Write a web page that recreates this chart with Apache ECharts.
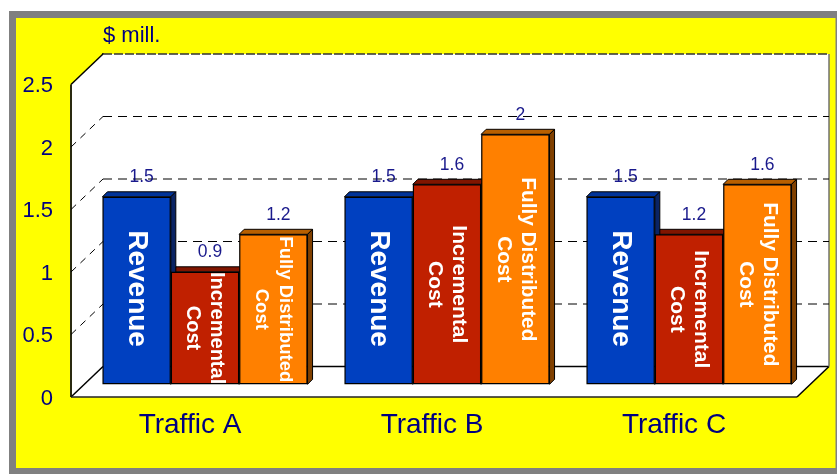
<!DOCTYPE html>
<html>
<head>
<meta charset="utf-8">
<style>html,body{margin:0;padding:0;background:#fff}#c{width:837px;height:474px}</style>
<script src="https://cdn.jsdelivr.net/npm/echarts@6/dist/echarts.min.js"></script>
</head>
<body>
<div id="c"></div>
<script>
const categories = ['Traffic A', 'Traffic B', 'Traffic C'];
const revenue = [1.5, 1.5, 1.5];
const incrementalCost = [0.9, 1.6, 1.2];
const fullyDistributedCost = [1.2, 2, 1.6];
const gridTicks = [0.5, 1, 1.5, 2];
const seriesNames = ['Revenue', 'Incremental\nCost', 'Fully Distributed\nCost'];

const FONT = '"Liberation Sans", Arial, sans-serif';
const NAVY = '#000080';
const DX = 32, DY = 30.5;         // depth of the box
const BAR_DX = 5, BAR_DY = 5;     // depth of each bar
const BAR_RATIO = 0.2825;
const front = ['#0040C0', '#C02000', '#FF8000'];
const topFace = ['#003399', '#801500', '#B85F00'];
const sideFace = ['#0A2464', '#5C1000', '#804000'];
const labelSizes = [[28, 28, 28], [20, 21, 21], [18.5, 20.8, 20.8]];
const labelShift = [-2, 0, 0];

const allValues = [revenue, incrementalCost, fullyDistributedCost];
const rows = [];
for (let c = categories.length - 1; c >= 0; c--) {
  for (let s = allValues.length - 1; s >= 0; s--) rows.push([c, allValues[s][c], s]);
}

function barGeom(api) {
  const w = api.size([1, 0])[0] * BAR_RATIO;
  const c = api.value(0), v = api.value(1), s = api.value(2);
  const top = api.coord([c, v]), base = api.coord([c, 0]);
  const x0 = top[0] + (s - 1.5) * w;
  return {x0, x1: x0 + w, yTop: top[1], yBase: base[1], s, v};
}

const barSeries = allValues.map((vals, s) => ({
  type: 'bar',
  name: seriesNames[s],
  xAxisIndex: 2, yAxisIndex: 2,
  barWidth: BAR_RATIO * 100 + '%',
  barGap: 0,
  z: 3,
  itemStyle: {color: front[s], borderColor: '#000', borderWidth: 1.2},
  data: vals.map((v, c) => ({
    value: v,
    label: {
      show: true, position: 'inside', rotate: -90, formatter: seriesNames[s],
      offset: [labelShift[s], 0],
      color: '#fff', fontFamily: FONT, fontWeight: 'bold',
      fontSize: labelSizes[s][c], lineHeight: 24, align: 'center', verticalAlign: 'middle'
    }
  }))
}));

const option = {
  animation: false,
  backgroundColor: '#fff',
  textStyle: {fontFamily: FONT},
  graphic: [
    {type: 'rect', z: -2, silent: true, shape: {x: 9, y: 11, width: 828, height: 463}, style: {fill: '#808080'}},
    {type: 'rect', z: -1, silent: true, shape: {x: 16, y: 18, width: 819.5, height: 450}, style: {fill: '#FFFF00'}}
  ],
  grid: [
    {left: 103, top: 54, width: 726, height: 312.5},   // back wall
    {left: 71, top: 86, width: 726, height: 312.5},    // front edge: labelled axes
    {left: 84, top: 71.8, width: 726, height: 312.5}   // plane of the bars
  ],
  xAxis: [
    {type: 'category', gridIndex: 0, data: categories, show: false},
    {type: 'category', gridIndex: 1, data: categories,
      axisLine: {show: false}, axisTick: {show: false}, splitLine: {show: false},
      axisLabel: {color: NAVY, fontSize: 28, fontFamily: FONT, margin: 12.5, padding: [0, 4, 0, 0]}},
    {type: 'category', gridIndex: 2, data: categories, show: false}
  ],
  yAxis: [
    {type: 'value', gridIndex: 0, min: 0, max: 2.5, interval: 0.5,
      name: '$ mill.', nameLocation: 'end', nameGap: 7,
      nameTextStyle: {color: NAVY, fontSize: 22, fontFamily: FONT, align: 'left', padding: [0, 0, 0, 0]},
      axisLine: {show: true, lineStyle: {color: '#000', width: 2}},
      axisTick: {show: false}, axisLabel: {show: false}, splitLine: {show: false}},
    {type: 'value', gridIndex: 1, min: 0, max: 2.5, interval: 0.5,
      axisLine: {show: false}, axisTick: {show: false}, splitLine: {show: false},
      axisLabel: {color: NAVY, fontSize: 22, fontFamily: FONT, margin: 18}},
    {type: 'value', gridIndex: 2, min: 0, max: 2.5, interval: 0.5, show: false}
  ],
  series: [
    { // the box: side wall, back wall, floor
      type: 'custom', xAxisIndex: 0, yAxisIndex: 0, z: 1, silent: true, clip: false,
      data: [[0, 0]],
      renderItem(params, api) {
        const g = params.coordSys;
        const l = g.x, r = g.x + g.width, t = g.y, b = g.y + g.height;
        const poly = (pts, fill) => ({type: 'polygon', shape: {points: pts}, style: {fill}});
        const line = (x1, y1, x2, y2, stroke, w, dash) => ({type: 'line',
          shape: {x1, y1, x2, y2}, style: {stroke, lineWidth: w, lineDash: dash || null}});
        return {type: 'group', children: [
          poly([[l, t], [r, t], [r, b], [l, b]], '#fff'),
          poly([[l - DX, t + DY], [l, t], [l, b], [l - DX, b + DY]], '#fff'),
          poly([[l - DX, b + DY], [l, b], [r, b], [r - DX, b + DY]], '#fff'),
          line(l - DX, t + DY, l - DX, b + DY, '#2a2a10', 2),
          line(l - DX, t + DY, l, t, '#000', 1.5),
          line(l - DX, b + DY, l, b, '#000', 1.5),
          line(l - DX, b + DY, r - DX, b + DY, '#222', 1.5),
          line(r - DX, b + DY, r, b, '#000', 1.5),
          line(l, b, r, b, '#000', 1.5),
          line(r, t, r, b, '#707070', 1.5),
          line(l, t, r, t, '#333', 1.5, [9, 2])
        ]};
      }
    },
    { // dashed grid lines on back and side walls
      type: 'custom', xAxisIndex: 0, yAxisIndex: 0, z: 2, silent: true, clip: false,
      data: gridTicks.map(v => [0, v]),
      renderItem(params, api) {
        const g = params.coordSys;
        const y = api.coord([0, api.value(1)])[1];
        const st = {stroke: '#000', lineWidth: 1, lineDash: [9, 6]};
        return {type: 'group', children: [
          {type: 'line', shape: {x1: g.x, y1: y, x2: g.x + g.width, y2: y}, style: st},
          {type: 'line', shape: {x1: g.x - DX, y1: y + DY, x2: g.x, y2: y},
            style: {stroke: '#000', lineWidth: 1, lineDash: [7, 6]}}
        ]};
      }
    },
    { // top and side faces of the bars
      type: 'custom', xAxisIndex: 2, yAxisIndex: 2, z: 2.5, silent: true, clip: false,
      data: rows,
      renderItem(params, api) {
        const b = barGeom(api);
        const st = (fill) => ({fill, stroke: '#000', lineWidth: 1});
        return {type: 'group', children: [
          {type: 'polygon', shape: {points: [[b.x0, b.yTop], [b.x0 + BAR_DX, b.yTop - BAR_DY],
            [b.x1 + BAR_DX, b.yTop - BAR_DY], [b.x1, b.yTop]]}, style: st(topFace[b.s])},
          {type: 'polygon', shape: {points: [[b.x1, b.yTop], [b.x1 + BAR_DX, b.yTop - BAR_DY],
            [b.x1 + BAR_DX, b.yBase - BAR_DY], [b.x1, b.yBase]]}, style: st(sideFace[b.s])}
        ]};
      }
    },
    ...barSeries,
    { // value labels above the bars
      type: 'custom', xAxisIndex: 2, yAxisIndex: 2, z: 6, silent: true, clip: false,
      data: rows,
      renderItem(params, api) {
        const b = barGeom(api);
        return {type: 'text', style: {
          x: (b.x0 + b.x1) / 2 + 5, y: b.yTop - 19.5, text: String(b.v),
          fill: NAVY, font: '17.5px ' + FONT, align: 'center', verticalAlign: 'middle', opacity: 0.9
        }};
      }
    }
  ]
};
const chart = echarts.init(document.getElementById('c'), null, {renderer: 'canvas'});
chart.setOption(option);
</script>
</body>
</html>
